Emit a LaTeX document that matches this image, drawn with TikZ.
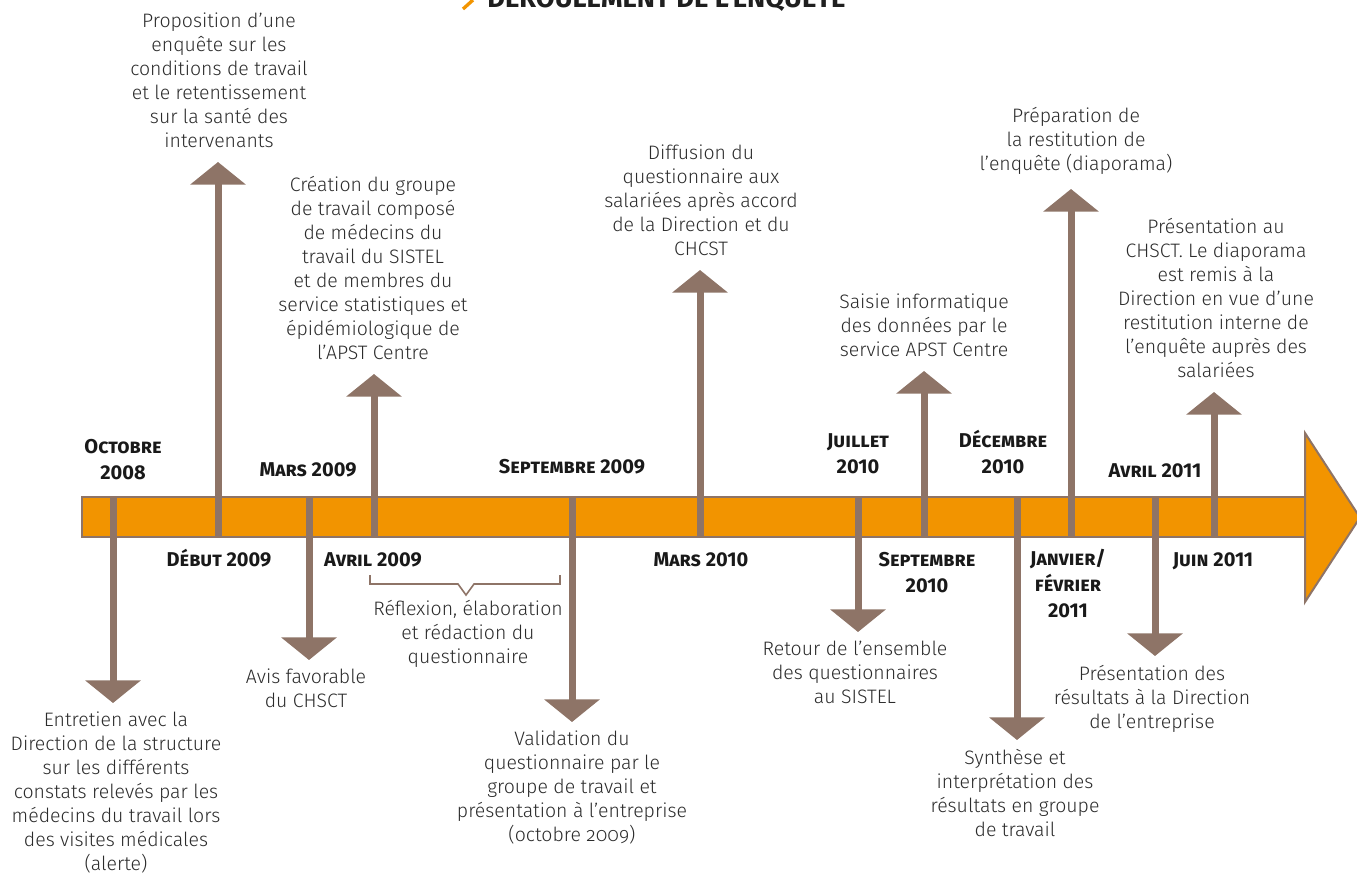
\documentclass[tikz,border=0pt]{standalone}
\usepackage{fontspec}
\setmainfont{Fira Sans}
\newfontfamily\lightfamily{Fira Sans Light}
\usepackage{tikz}
\usetikzlibrary{positioning}
\usetikzlibrary{calc}
\usetikzlibrary{arrows.meta}

\definecolor{tlorange}{HTML}{F29400}
\definecolor{tlbrown}{HTML}{8E7467}
\definecolor{tltext}{HTML}{2B2B2B}

\newcommand\evfont{\lightfamily\fontsize{14.6}{18}\selectfont}
\newcommand\datefont{\fontsize{15}{19.5}\selectfont\bfseries\scshape}
\newcommand\oldnum{\addfontfeature{Numbers=OldStyle}}

\begin{document}
\begin{tikzpicture}[x=0.75pt,y=-0.75pt,
  bar/.style={draw=tlbrown, fill=tlorange, line width=1.5pt},
  stem/.style={draw=tlbrown, line width=5.25pt, -{Triangle[width=41pt,length=17pt]}},
  event/.style={font=\evfont, text=tltext, align=center, inner xsep=0pt},
  evdown/.style={event, anchor=north, inner ysep=6.5pt},
  evup/.style={event, anchor=south, inner ysep=10.5pt},
  date/.style={font=\datefont, text=black!90, align=center, inner sep=0pt, anchor=base}]

\useasboundingbox (0,0) rectangle (1357,872);

% title
\draw[tlorange, line width=2.5pt] (463,9) -- (473,0);
\node[anchor=base west, inner sep=0pt, font=\fontsize{20.5}{22}\selectfont\bfseries, text=black!88]
  (title) at (487,7) {DÉROULEMENT DE L’ENQUÊTE};

% time bar
\path[bar] (82,497) rectangle (1305,537);
\path[bar, line join=miter] (1305,433) -- (1360,517.5) -- (1305,602) -- cycle;

% points on the bar
\coordinate (d1) at (113,497);
\coordinate (d2) at (309,497);
\coordinate (d3) at (572,497);
\coordinate (d4) at (858,497);
\coordinate (d5) at (1017,497);
\coordinate (d6) at (1155,497);
\coordinate (u1) at (218,537);
\coordinate (u2) at (374,537);
\coordinate (u3) at (700,537);
\coordinate (u4) at (924,537);
\coordinate (u5) at (1071,537);
\coordinate (u6) at (1214,537);

% events below the bar
\node[evdown] (e1) at (116,703) {Entretien avec la\\Direction de la structure\\sur les différents\\constats relevés par les\\médecins du travail lors\\des visites médicales\\(alerte)};
\node[evdown] (e2) at (306,660) {Avis favorable\\du CHSCT};
\node[evdown] (e3) at (572,722) {Validation du\\questionnaire par le\\groupe de travail et\\présentation à l’entreprise\\(octobre {\oldnum 2009})};
\node[evdown] (e4) at (855,632) {Retour de l’ensemble\\des questionnaires\\au SISTEL};
\node[evdown] (e5) at (1015,740) {Synthèse et\\interprétation des\\résultats en groupe\\de travail};
\node[evdown] (e6) at (1152,656) {Présentation des\\résultats à la Direction\\de l’entreprise};

% events above the bar
\node[evup] (f1) at (219,162) {Proposition d’une\\enquête sur les\\conditions de travail\\et le retentissement\\sur la santé des\\intervenants};
\node[evup] (f2) at (373,374) {Création du groupe\\de travail composé\\de médecins du\\travail du SISTEL\\et de membres du\\service statistiques et\\épidémiologique de\\l’APST Centre};
\node[evup] (f3) at (701,270) {Diffusion du\\questionnaire aux\\salariées après accord\\de la Direction et du\\CHCST};
\node[evup] (f4) at (924,371) {Saisie informatique\\des données par le\\service APST Centre};
\node[evup] (f5) at (1076,189) {Préparation de\\la restitution de\\l’enquête (diaporama)};
\node[evup] (f6) at (1216,392) {Présentation au\\CHSCT. Le diaporama\\est remis à la\\Direction en vue d’une\\restitution interne de\\l’enquête auprès des\\salariées};

% stems
\foreach \n in {1,...,6} {
  \draw[stem] (d\n) -- (d\n |- e\n.north);
  \draw[stem] (u\n) -- (u\n |- f\n.south);
}

% dates (base = last line)
\node[date] (o08) at (123,479) {Octobre\\2008};
\node[date] (m09) at (308,476) {Mars 2009};
\node[date] (s09) at (572,473) {Septembre 2009};
\node[date] (j10) at (858,473) {Juillet\\2010};
\node[date] (c10) at (1003,473) {Décembre\\2010};
\node[date] (a11) at (1155,477) {Avril 2011};
\node[date] (b09) at (219,566) {Début 2009};
\node[date] (a09) at (373,566) {Avril 2009};
\node[date] (m10) at (701,566) {Mars 2010};
\node[date] (s10) at (927,592) {Septembre\\2010};
\node[date] (j11) at (1068,617) {Janvier/\\février\\2011};
\node[date] (n11) at (1213,566) {Juin 2011};

% questionnaire period
\draw[tlbrown, line width=1.2pt] (370,575) |- (458,584) -- (466,595) -- (474,584) -| (560,575);
\node[event, anchor=base, inner sep=0pt] (refl) at (468,663) {Réflexion, élaboration\\et rédaction du\\questionnaire};

\end{tikzpicture}
\end{document}
